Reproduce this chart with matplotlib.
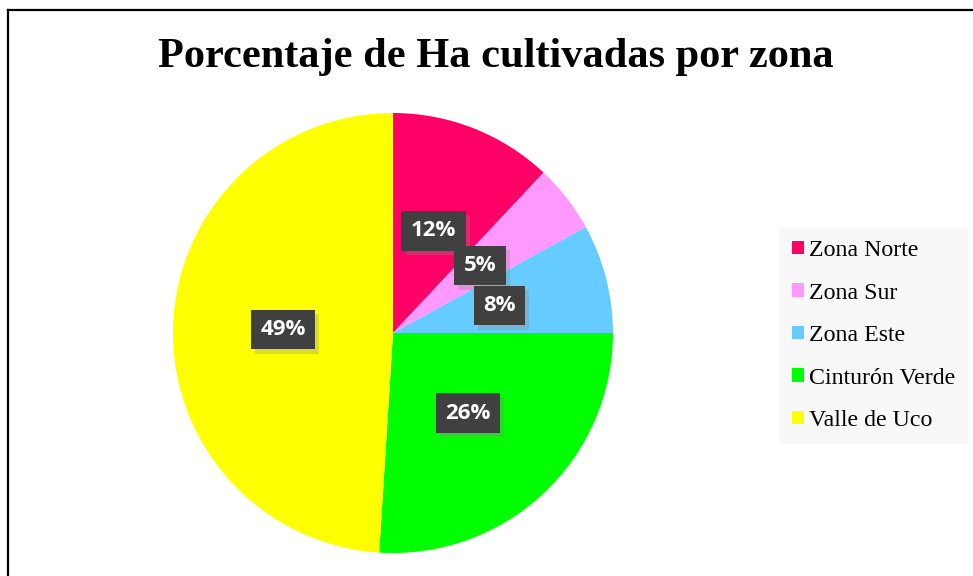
import matplotlib.pyplot as plt
import matplotlib.patheffects as pe
from matplotlib.lines import Line2D
from matplotlib.patches import Patch

# Data
zones = ['Zona Norte', 'Zona Sur', 'Zona Este', 'Cinturón Verde', 'Valle de Uco']
shares = [12, 5, 8, 26, 49]
colors = ['#FF0066', '#FF99FF', '#66CCFF', '#00FF00', '#FFFF00']
title = 'Porcentaje de Ha cultivadas por zona'

W, H = 973, 576
fig = plt.figure(figsize=(W / 100, H / 100), dpi=100)

# pie axes: center (393, 333) px, radius 220 px
cx, cy, r = 393, 333, 220
ax = fig.add_axes([(cx - r) / W, (H - cy - r) / H, 2 * r / W, 2 * r / H])
wedges, texts, autotexts = ax.pie(shares, colors=colors, startangle=90, counterclock=False,
                                  autopct='%1.0f%%', pctdistance=0.5,
                                  wedgeprops=dict(linewidth=0))
ax.set_xlim(-1, 1)
ax.set_ylim(-1, 1)

for t in autotexts:
    t.set_color('white')
    t.set_fontsize(16)
    t.set_fontweight('bold')
    t.set_fontfamily(['Open Sans', 'DejaVu Sans'])
    t.set_bbox(dict(boxstyle='square,pad=0.42', facecolor='#404040', edgecolor='none'))
    t.get_bbox_patch().set_path_effects([pe.SimplePatchShadow(offset=(3, -3), shadow_rgbFace='#888888', alpha=0.3), pe.Normal()])

# title
fig.text(496 / W, 1 - 57 / H, title, ha='center', va='center', fontsize=30.5,
         fontweight='bold', family='Liberation Serif')

# legend
handles = [Patch(facecolor=c, edgecolor='none') for c in colors]
leg = fig.legend(handles, zones, loc='upper left', bbox_to_anchor=(779 / W, 1 - 227 / H),
                 borderaxespad=0, frameon=True, fancybox=False, borderpad=0.55, labelspacing=0.9,
                 handlelength=0.5, handleheight=0.5, handletextpad=0.2,
                 prop={'family': 'Liberation Serif', 'size': 17.2})
leg.get_frame().set_facecolor('#F8F8F8')
leg.get_frame().set_edgecolor('none')
leg.get_frame().set_alpha(1)

# outer frame (only left and top edges visible)
fig.add_artist(Line2D([8 / W, 8 / W], [0, 1 - 10 / H], color='black', lw=1.6, transform=fig.transFigure))
fig.add_artist(Line2D([8 / W, 1], [1 - 10 / H, 1 - 10 / H], color='black', lw=1.6, transform=fig.transFigure))

fig.savefig('out.png', dpi=100)
